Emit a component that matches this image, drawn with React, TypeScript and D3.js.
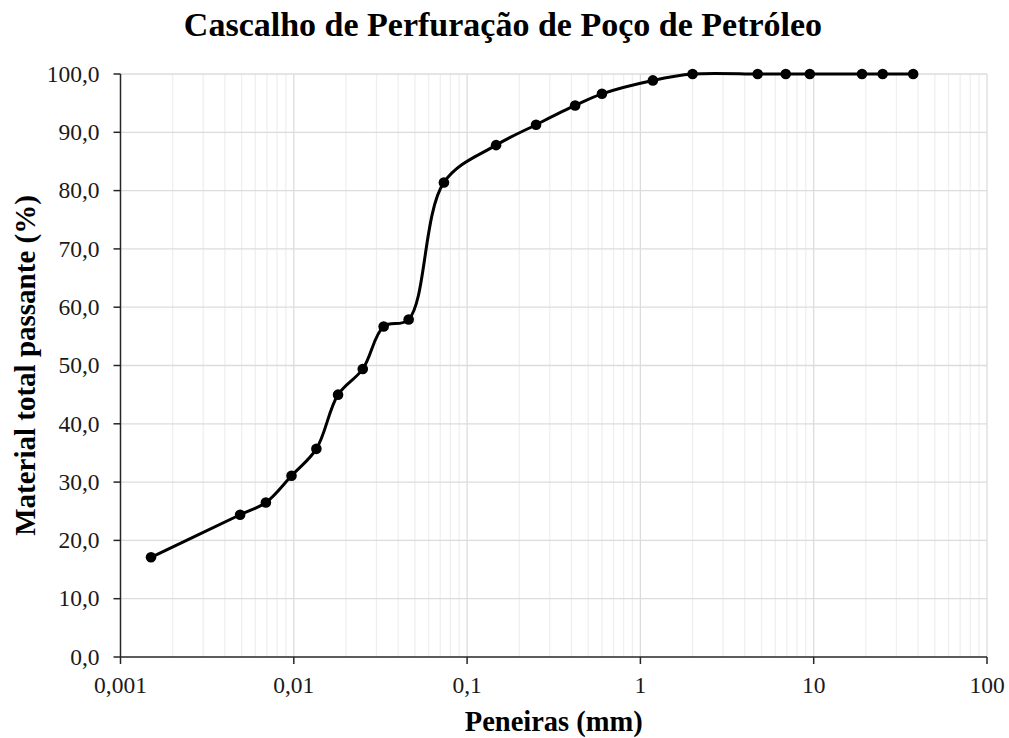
import React from "react";
import * as d3 from "d3";

// Sieve openings (mm) and cumulative percentage passing
const sieveSizes = [
  0.0015, 0.0049, 0.0069, 0.0097, 0.0135, 0.018, 0.025, 0.033, 0.046, 0.0735,
  0.147, 0.25, 0.42, 0.6, 1.18, 2.0, 4.75, 6.9, 9.5, 19, 25, 37.5,
];
const percentPassing = [
  17.1, 24.4, 26.5, 31.1, 35.7, 45.0, 49.4, 56.7, 57.9, 81.4,
  87.8, 91.3, 94.6, 96.6, 98.9, 100, 100, 100, 100, 100, 100, 100,
];
const xTickValues = [0.001, 0.01, 0.1, 1, 10, 100];
const xTickLabels = ["0,001", "0,01", "0,1", "1", "10", "100"];
const yTickValues = [0, 10, 20, 30, 40, 50, 60, 70, 80, 90, 100];

const title = "Cascalho de Perfuração de Poço de Petróleo";
const xTitle = "Peneiras (mm)";
const yTitle = "Material total passante (%)";

const W = 1009;
const H = 738;
const margin = { left: 120.5, right: 22, top: 74, bottom: 81 };
const FONT = "'Liberation Serif', 'Times New Roman', serif";

export default function App() {
  const x = d3
    .scaleLog()
    .domain([0.001, 100])
    .range([margin.left, W - margin.right]);
  const y = d3
    .scaleLinear()
    .domain([0, 100])
    .range([H - margin.bottom, margin.top]);

  const minorX: number[] = [];
  for (let e = -3; e < 2; e++) {
    for (let m = 2; m <= 9; m++) minorX.push(m * Math.pow(10, e));
  }

  const points = sieveSizes.map((s, i) => [x(s), y(percentPassing[i])] as [number, number]);
  const line = d3.line().curve(d3.curveCatmullRom.alpha(0.5))(points) || "";

  const fmtY = (v: number) => v.toFixed(1).replace(".", ",");
  const x0 = x(0.001);
  const x1 = x(100);
  const yb = y(0);
  const yt = y(100);

  return (
    <svg
      width={W}
      height={H}
      style={{ position: "absolute", left: 0, top: 0, background: "#fff" }}
      fontFamily={FONT}
    >
      <rect width={W} height={H} fill="#fff" />
      {/* minor vertical gridlines */}
      {minorX.map((v) => (
        <line key={"m" + v} x1={x(v)} x2={x(v)} y1={yt} y2={yb} stroke="#efefef" strokeWidth={1.3} />
      ))}
      {/* major vertical gridlines */}
      {xTickValues.slice(1).map((v) => (
        <line key={"M" + v} x1={x(v)} x2={x(v)} y1={yt} y2={yb} stroke="#dcdcdc" strokeWidth={1.3} />
      ))}
      {/* horizontal gridlines */}
      {yTickValues.slice(1).map((v) => (
        <line key={"h" + v} x1={x0} x2={x1} y1={y(v)} y2={y(v)} stroke="#dcdcdc" strokeWidth={1.3} />
      ))}

      {/* axes */}
      <line x1={x0} x2={x0} y1={yt} y2={yb} stroke="#262626" strokeWidth={1.5} />
      <line x1={x0} x2={x1} y1={yb} y2={yb} stroke="#262626" strokeWidth={1.5} />
      {yTickValues.map((v) => (
        <g key={"yt" + v}>
          <line x1={x0 - 7} x2={x0} y1={y(v)} y2={y(v)} stroke="#262626" strokeWidth={1.5} />
          <text x={x0 - 21} y={y(v)} dy="0.33em" textAnchor="end" fontSize={23.5} fill="#1a1a1a">
            {fmtY(v)}
          </text>
        </g>
      ))}
      {xTickValues.map((v, i) => (
        <g key={"xt" + v}>
          <line x1={x(v)} x2={x(v)} y1={yb} y2={yb + 7} stroke="#262626" strokeWidth={1.5} />
          <text x={x(v)} y={yb + 36} textAnchor="middle" fontSize={23.5} fill="#1a1a1a">
            {xTickLabels[i]}
          </text>
        </g>
      ))}

      {/* data */}
      <path d={line} fill="none" stroke="#000" strokeWidth={3} strokeLinejoin="round" />
      {points.map(([px, py], i) => (
        <circle key={"p" + i} cx={px} cy={py} r={5.3} fill="#000" />
      ))}

      {/* titles */}
      <text x={503} y={36} textAnchor="middle" fontSize={34} fontWeight="bold" fill="#000">
        {title}
      </text>
      <text x={(x0 + x1) / 2} y={731} textAnchor="middle" fontSize={28.5} fontWeight="bold" fill="#000">
        {xTitle}
      </text>
      <text
        transform={`translate(35, ${(yt + yb) / 2}) rotate(-90)`}
        textAnchor="middle"
        fontSize={29}
        fontWeight="bold"
        fill="#000"
      >
        {yTitle}
      </text>
    </svg>
  );
}
